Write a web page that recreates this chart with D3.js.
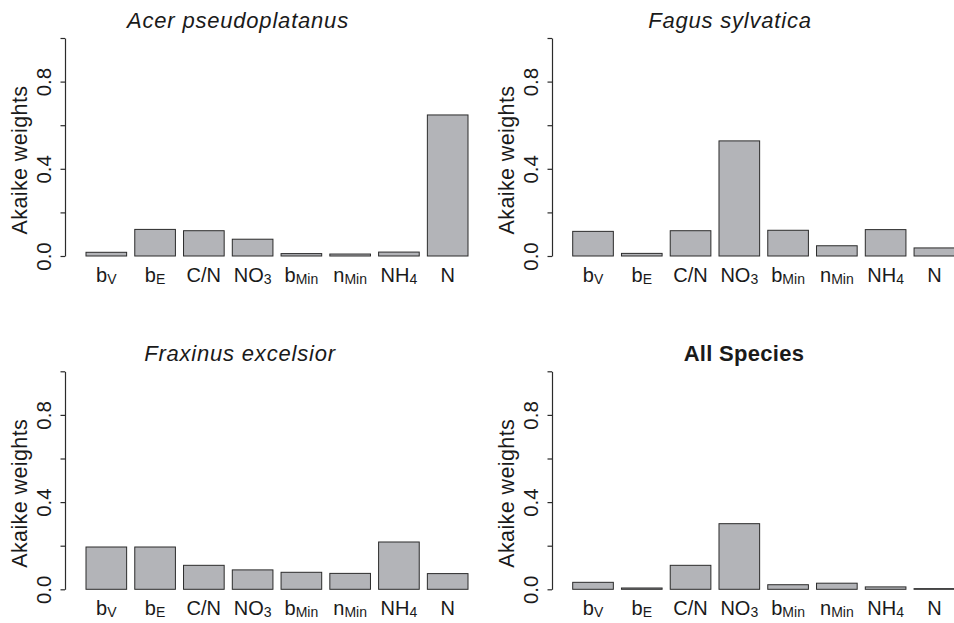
<!DOCTYPE html>
<html>
<head>
<meta charset="utf-8">
<script src="https://cdn.jsdelivr.net/npm/d3@7"></script>
<style>
  body { margin:0; background:#fff; }
  text { font-family: "Liberation Sans", Arial, Helvetica, sans-serif; fill:#1a1a1a; }
</style>
</head>
<body>
<div id="chart"></div>
<script>
// donnees
var categories = ["bV","bE","C/N","NO3","bMin","nMin","NH4","N"];
var labelMain  = ["b","b","C/N","NO","b","n","NH","N"];
var labelSub   = ["V","E","","3","Min","Min","4",""];

var titles = ["Acer pseudoplatanus","Fagus sylvatica","Fraxinus excelsior","All Species"];

var acer       = [0.017, 0.122, 0.116, 0.077, 0.011, 0.009, 0.018, 0.647];
var fagus      = [0.113, 0.012, 0.116, 0.528, 0.118, 0.047, 0.121, 0.037];
var fraxinus   = [0.194, 0.194, 0.110, 0.089, 0.078, 0.073, 0.217, 0.072];
var allSpecies = [0.032, 0.006, 0.110, 0.301, 0.021, 0.028, 0.011, 0.003];

var yTicks      = [0, 0.2, 0.4, 0.6, 0.8, 1.0];
var yTickLabels = ["0.0", "", "0.4", "", "0.8", ""];
var yLabel = "Akaike weights";

// mise en page
var width = 954, height = 623;
var panels = [
  {title: titles[0], values: acer,       axisX: 65,  barX: 86,    base: 256,   italic: true,  titleX: 238},
  {title: titles[1], values: fagus,      axisX: 552, barX: 572.7, base: 256,   italic: true,  titleX: 730},
  {title: titles[2], values: fraxinus,   axisX: 65,  barX: 86,    base: 589.3, italic: true,  titleX: 240},
  {title: titles[3], values: allSpecies, axisX: 552, barX: 572.7, base: 589.3, italic: false, titleX: 744}
];
var plotH = 218, barsW = 382;

var svg = d3.select("#chart").append("svg")
  .attr("width", width).attr("height", height);

panels.forEach(function(p){
  var g = svg.append("g");

  var x = d3.scaleBand()
    .domain(categories)
    .range([p.barX, p.barX + barsW])
    .paddingInner(1/6)
    .paddingOuter(0);

  var y = d3.scaleLinear()
    .domain([0, 1])
    .range([p.base, p.base - plotH]);

  // barres
  g.selectAll("rect")
    .data(p.values)
    .enter().append("rect")
    .attr("x", function(d, i){ return x(categories[i]); })
    .attr("y", function(d){ return y(d); })
    .attr("width", x.bandwidth())
    .attr("height", function(d){ return y(0) - y(d); })
    .attr("fill", "#b3b4b8")
    .attr("stroke", "#2b2b2b")
    .attr("stroke-width", 1);

  // axe y
  var ax = g.append("g")
    .attr("transform", "translate(" + p.axisX + ",0)")
    .call(d3.axisLeft(y)
      .tickValues(yTicks)
      .tickSize(4.5)
      .tickSizeOuter(0)
      .tickFormat(function(d, i){ return yTickLabels[i]; }));
  ax.select(".domain").attr("stroke", "#2b2b2b").attr("stroke-width", 1.2);
  ax.selectAll(".tick line").attr("stroke", "#2b2b2b").attr("stroke-width", 1.2);
  ax.selectAll(".tick text")
    .attr("transform", "rotate(-90)")
    .attr("x", 0).attr("y", -14.5).attr("dy", null)
    .attr("text-anchor", "middle")
    .style("font-size", "20.5px")
    .style("font-family", "'Liberation Sans', Arial, sans-serif")
    .attr("fill", "#1a1a1a");

  // titre de l'axe
  g.append("text")
    .attr("transform", "translate(" + (p.axisX - 38.5) + "," + (p.base - 96) + ") rotate(-90)")
    .attr("text-anchor", "middle")
    .style("font-size", "21.5px")
    .style("letter-spacing", "0.4px")
    .text(yLabel);

  // titre du panneau
  g.append("text")
    .attr("x", p.titleX)
    .attr("y", p.base - 228.5)
    .attr("text-anchor", "middle")
    .style("font-size", "22px")
    .style("letter-spacing", p.italic ? "0.8px" : "0.3px")
    .style("font-style", p.italic ? "italic" : "normal")
    .style("font-weight", p.italic ? "normal" : "bold")
    .text(p.title);

  // etiquettes x avec indices
  var lab = g.selectAll(".xlab")
    .data(categories)
    .enter().append("text")
    .attr("class", "xlab")
    .attr("x", function(d){ return x(d) + x.bandwidth()/2; })
    .attr("y", p.base + 26)
    .attr("text-anchor", "middle")
    .style("font-size", "20px");
  lab.append("tspan").text(function(d, i){ return labelMain[i]; });
  lab.append("tspan")
    .attr("dy", 1.5)
    .style("font-size", "14px")
    .text(function(d, i){ return labelSub[i]; });
});
</script>
</body>
</html>
